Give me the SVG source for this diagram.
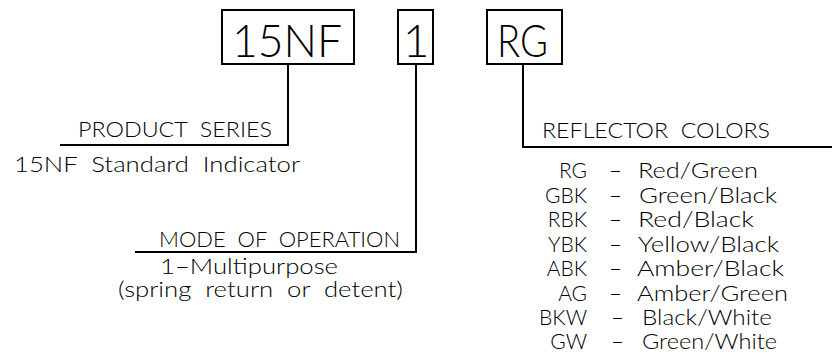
<svg xmlns="http://www.w3.org/2000/svg" width="832" height="355" viewBox="0 0 832 355">
<style>
.box{fill:none;stroke:#000;stroke-width:2}
.ln{fill:none;stroke:#000;stroke-width:2}
text{font-family:"Lato","Liberation Sans",Arial,sans-serif;font-weight:300;fill:#000;white-space:pre}
.big{font-size:46px;font-weight:300}
.sm{font-size:21px}
.ls{font-size:21px}
</style>
<rect width="832" height="355" fill="#fff"/>
<g id="connectors">
<polyline class="ln" points="288,64 288,145 60,145"/>
<polyline class="ln" points="416,64 416,252 135,252"/>
<polyline class="ln" points="523,64 523,147 832,147"/>
</g>
<g id="node-15nf">
<rect class="box" x="222" y="10" width="132" height="54"/>
<text class="big" x="232" y="57" textLength="110" lengthAdjust="spacingAndGlyphs">15NF</text>
</g>
<g id="node-1">
<rect class="box" x="398" y="10" width="35" height="54"/>
<text class="big" x="416" y="57" text-anchor="middle">1</text>
</g>
<g id="node-rg">
<rect class="box" x="487" y="10" width="75" height="54"/>
<text class="big" x="497" y="57" textLength="51" lengthAdjust="spacingAndGlyphs">RG</text>
</g>
<g id="product-series">
<text class="sm" x="78" y="137" textLength="194" lengthAdjust="spacingAndGlyphs" xml:space="preserve">PRODUCT  SERIES</text>
<text class="sm" x="14" y="172" textLength="286" lengthAdjust="spacingAndGlyphs" xml:space="preserve">15NF  Standard  Indicator</text>
</g>
<g id="mode-of-operation">
<text class="sm" x="159" y="247" textLength="241" lengthAdjust="spacingAndGlyphs" xml:space="preserve">MODE  OF  OPERATION</text>
<text class="sm" x="160" y="274" textLength="178" lengthAdjust="spacingAndGlyphs">1–Multipurpose</text>
<text class="sm" x="118" y="297" textLength="285" lengthAdjust="spacingAndGlyphs" xml:space="preserve">(spring  return  or  detent)</text>
</g>
<g id="reflector-colors">
<text class="sm" x="542" y="138" textLength="228" lengthAdjust="spacingAndGlyphs" xml:space="preserve">REFLECTOR  COLORS</text>
<g class="ls">
<text x="587" y="178" text-anchor="end">RG</text>
<text x="609" y="178" textLength="13" lengthAdjust="spacingAndGlyphs">–</text>
<text x="638" y="178" textLength="120" lengthAdjust="spacingAndGlyphs">Red/Green</text>

<text x="587" y="203" text-anchor="end">GBK</text>
<text x="609" y="203" textLength="13" lengthAdjust="spacingAndGlyphs">–</text>
<text x="639" y="203" textLength="138" lengthAdjust="spacingAndGlyphs">Green/Black</text>

<text x="587" y="227" text-anchor="end">RBK</text>
<text x="609" y="227" textLength="13" lengthAdjust="spacingAndGlyphs">–</text>
<text x="638" y="227" textLength="116" lengthAdjust="spacingAndGlyphs">Red/Black</text>

<text x="587" y="252" text-anchor="end">YBK</text>
<text x="609" y="252" textLength="13" lengthAdjust="spacingAndGlyphs">–</text>
<text x="638" y="252" textLength="141" lengthAdjust="spacingAndGlyphs">Yellow/Black</text>

<text x="587" y="276" text-anchor="end">ABK</text>
<text x="609" y="276" textLength="13" lengthAdjust="spacingAndGlyphs">–</text>
<text x="637" y="276" textLength="147" lengthAdjust="spacingAndGlyphs">Amber/Black</text>

<text x="587" y="301" text-anchor="end">AG</text>
<text x="609" y="301" textLength="13" lengthAdjust="spacingAndGlyphs">–</text>
<text x="637" y="301" textLength="151" lengthAdjust="spacingAndGlyphs">Amber/Green</text>

<text x="587" y="325" text-anchor="end">BKW</text>
<text x="611" y="325" textLength="13" lengthAdjust="spacingAndGlyphs">–</text>
<text x="642" y="325" textLength="130" lengthAdjust="spacingAndGlyphs">Black/White</text>

<text x="587" y="349" text-anchor="end">GW</text>
<text x="611" y="349" textLength="13" lengthAdjust="spacingAndGlyphs">–</text>
<text x="642" y="349" textLength="135" lengthAdjust="spacingAndGlyphs">Green/White</text>
</g>
</g>
</svg>
